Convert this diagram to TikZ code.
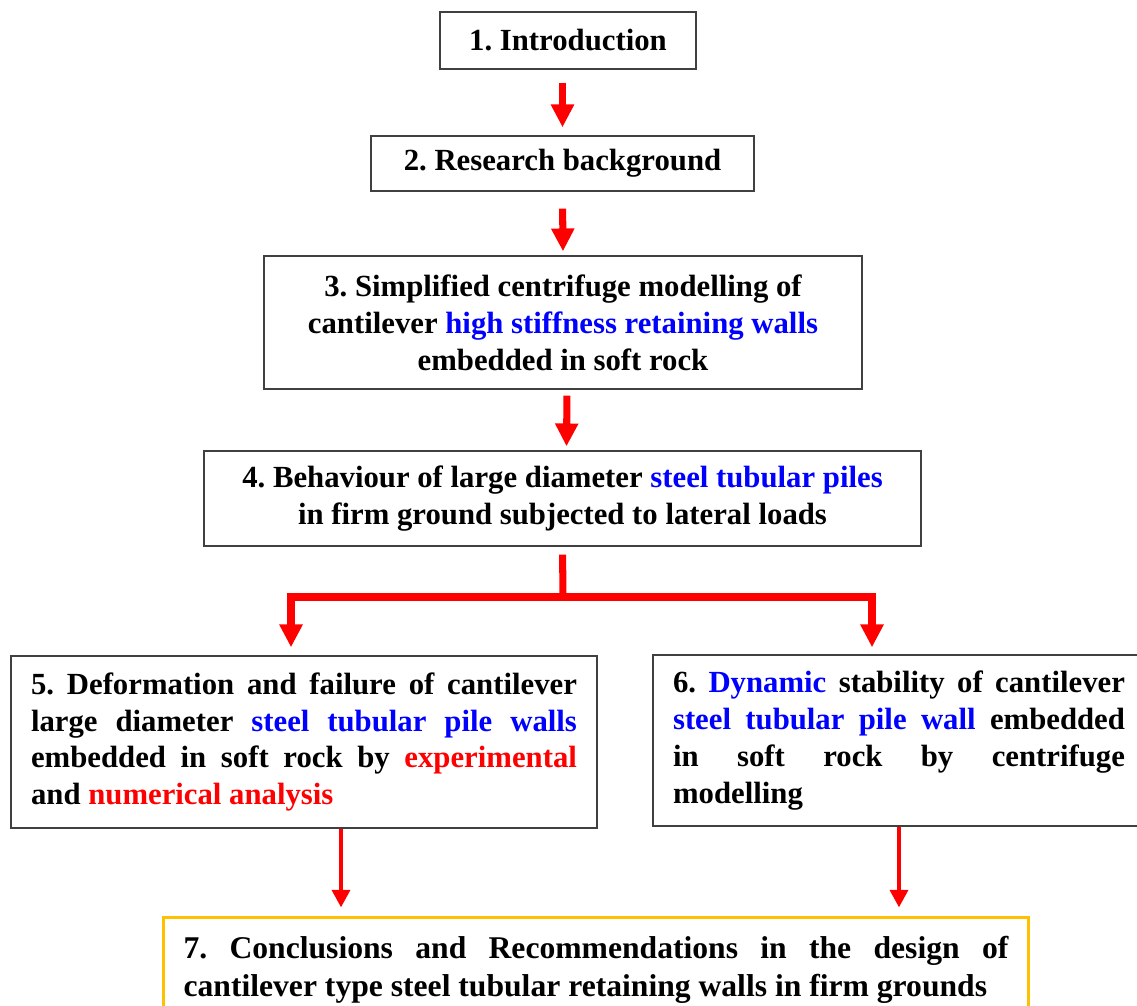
\documentclass[tikz,border=0pt]{standalone}
\usepackage{fontspec}
\setmainfont{Liberation Serif}
\usepackage{tikz}
\usetikzlibrary{arrows.meta,positioning}
\definecolor{boxline}{gray}{0.25}
\definecolor{orangeline}{RGB}{255,192,0}
\setlength{\parindent}{0pt}
\hyphenpenalty=10000
\exhyphenpenalty=10000
\frenchspacing

\begin{document}
\begin{tikzpicture}[x=0.02cm,y=-0.02cm]
\tikzstyle{step box}=[draw=boxline,line width=0.8pt,inner sep=0pt,align=center,
  font=\bfseries\fontsize{17.5}{21}\selectfont]
\tikzstyle{wide box}=[step box,inner xsep=0.4cm,align=justify]
\tikzstyle{arrow}=[red,line width=4pt,-{Triangle[length=13pt,width=12.5pt]},line join=miter]
\tikzstyle{thin arrow}=[red,line width=2.8pt,-{Triangle[length=10pt,width=10pt]}]
\clip (0,0) rectangle (1137,1006);
\node [step box,minimum width=5.12cm,minimum height=1.14cm] at (568,40.5) (b1) {1. Introduction};
\node [step box,minimum width=7.66cm,minimum height=1.1cm] at (562.5,163.5) (b2) {2. Research background};
\node [step box,minimum width=11.96cm,minimum height=2.66cm] at (563,322.5) (b3)
  {3. Simplified centrifuge modelling of\\ cantilever \textcolor{blue}{high stiffness retaining walls}\\ embedded in soft rock};
\node [step box,minimum width=14.34cm,minimum height=1.9cm] at (562.5,498.5) (b4)
  {4. Behaviour of large diameter \textcolor{blue}{steel tubular piles}\\ in firm ground subjected to lateral loads};
\node [wide box,text width=10.92cm,minimum height=3.44cm] at (304,742) (b5)
  {5. Deformation and failure of cantilever\linebreak large diameter \textcolor{blue}{steel tubular pile walls}\linebreak
   embedded in soft rock by \textcolor{red}{experimental}\linebreak and \textcolor{red}{numerical analysis}};
\node [wide box,text width=9.04cm,minimum height=3.42cm] at (899,740.5) (b6)
  {6. \textcolor{blue}{Dynamic} stability of cantilever\linebreak \textcolor{blue}{steel tubular pile wall} embedded\linebreak
   in soft rock by centrifuge\linebreak modelling};
\node [wide box,draw=orangeline,line width=1.7pt,text width=16.5cm,minimum height=2.12cm,
  font=\bfseries\fontsize{18}{21.5}\selectfont] at (596,970) (b7)
  {7. Conclusions and Recommendations in the design of\linebreak cantilever type steel tubular retaining walls in firm grounds};
% arrows between steps
\draw [arrow,shorten <=0.26cm,shorten >=0.16cm] (b2.north |- b1.south) -- (b2.north);
\draw [arrow,shorten <=0.34cm,shorten >=0.08cm] (b2.south) -- (b3.north);
\draw [arrow,shorten <=0.12cm,shorten >=0.08cm] ([xshift=0.08cm]b3.south) -- ([xshift=0.08cm]b4.north);
% fork under step 4
\coordinate (fork) at (563,597);
\draw [red,line width=4pt,shorten <=0.16cm] (b4.south) -- (fork);
\draw [arrow,shorten >=0.16cm] (fork) -| ([xshift=-0.26cm]b5.north);
\draw [arrow,shorten >=0.14cm] (fork) -| ([xshift=-0.54cm]b6.north);
% into conclusions
\draw [thin arrow,shorten >=0.16cm] ([xshift=0.74cm]b5.south) -- ([xshift=0.74cm]b5.south |- b7.north);
\draw [thin arrow,shorten >=0.16cm] (b6.south) -- (b6.south |- b7.north);
\end{tikzpicture}
\end{document}
